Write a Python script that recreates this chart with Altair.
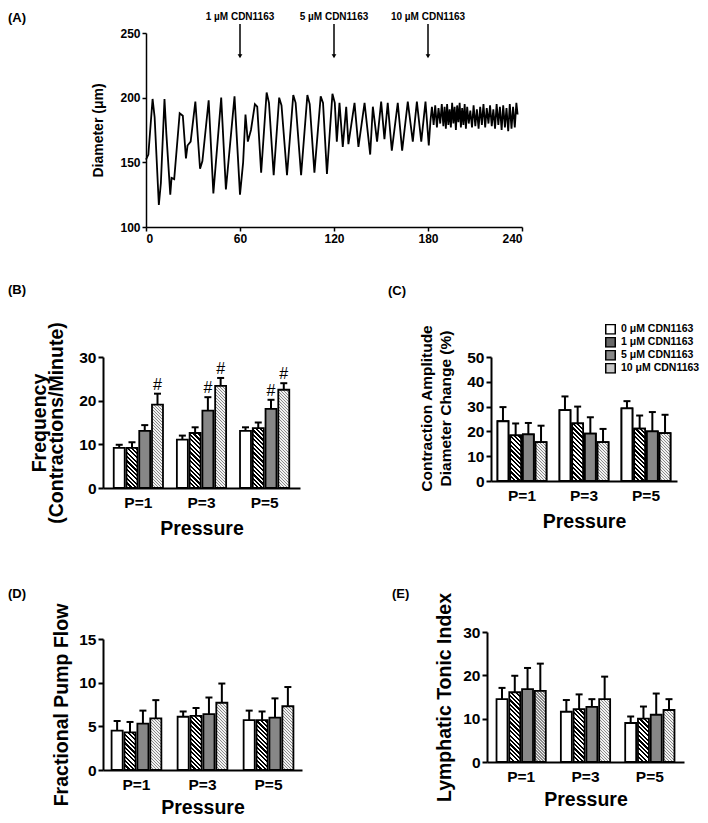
import altair as alt
import pandas as pd

FONT = "Liberation Sans, Arial, sans-serif"
NARROW = "Liberation Sans Narrow, Liberation Sans, Arial, sans-serif"

# ---------------- Panel A data: diameter trace (time s, diameter um) ----------------
trace_control = [(0, 152), (1.5, 156), (4.2, 199), (5.5, 185), (8.2, 117), (9.5, 134), (11.8, 199),
                 (13, 172), (15.5, 125), (16.3, 138), (18, 137), (21.5, 188), (23.5, 186), (25.5, 153),
                 (26.5, 163), (28.5, 166), (31.5, 197), (34.5, 145), (36, 151), (40, 198), (43, 126),
                 (48, 200), (51, 129), (56.5, 201), (60, 125)]
trace_1uM = [(62, 150), (63.5, 187), (65, 166), (67, 175), (69.5, 195), (71, 193), (73.5, 142),
             (77, 204), (78.5, 196), (81.5, 140), (85, 200), (86.5, 194), (90, 140), (94, 202),
             (95.5, 196), (99, 140), (103, 202), (104.5, 195), (107.5, 142), (111.5, 201), (113, 196),
             (115.5, 141), (119, 203), (120.5, 196)]
trace_5uM = [(121.8, 166), (123.5, 196), (125.6, 162), (127.8, 193), (129.2, 164), (133.1, 196),
             (135.6, 162), (139.5, 196), (143.1, 156), (144.8, 193), (147.5, 166), (150.1, 197),
             (152.2, 168), (154.3, 196), (156.9, 159), (160.7, 196), (163.5, 159), (167.1, 197),
             (170.3, 166), (172.9, 197), (175.7, 166), (178.4, 197), (180.5, 163)]
trace_10uM = [(181.5, 181), (182.5, 193), (183.6, 179), (184.6, 194), (185.7, 177), (186.7, 192),
              (187.8, 180), (188.8, 195), (189.8, 178), (190.6, 193), (191.4, 176), (192.2, 195),
              (193.0, 179), (193.8, 191), (194.6, 177), (195.4, 196), (196.2, 180), (197.0, 193),
              (197.8, 175), (198.6, 194), (199.4, 181), (200.2, 196), (201.0, 177), (201.8, 192),
              (202.6, 179), (203.4, 195), (204.2, 176), (205.0, 193), (206.0, 180), (207.0, 190),
              (208.1, 177), (209.1, 194), (210.2, 178), (211.2, 191), (212.3, 176), (213.3, 193),
              (214.4, 179), (215.4, 195), (216.5, 177), (217.5, 192), (218.6, 180), (219.6, 194),
              (220.7, 178), (221.7, 191), (222.8, 176), (223.8, 195), (224.9, 179), (225.9, 193),
              (227.0, 175), (228.0, 194), (229.1, 177), (230.1, 192), (231.2, 174), (232.2, 195),
              (233.3, 176), (234.3, 193), (235.4, 177), (236.4, 196), (237.2, 187)]

arrow_times = [60, 120, 180]
arrow_texts = ["1 µM CDN1163", "5 µM CDN1163", "10 µM CDN1163"]

# ---------------- Bar panels data ----------------
pressures = ["P=1", "P=3", "P=5"]
doses = ["0 μM CDN1163", "1 μM CDN1163", "5 μM CDN1163", "10 μM CDN1163"]
dose_fills = ["#ffffff", "#686868", "#878787", "#c6c6c6"]

freq_mean = [[9.2, 9.2, 13.1, 19.1], [11.1, 12.6, 17.7, 23.4], [13.1, 13.7, 18.1, 22.5]]
freq_sem = [[0.7, 1.3, 1.3, 2.5], [0.9, 1.3, 3.1, 1.8], [0.8, 1.3, 2.1, 1.5]]
freq_sig = [[0, 0, 0, 1], [0, 0, 1, 1], [0, 0, 1, 1]]

amp_mean = [[24.1, 18.4, 18.8, 15.7], [28.6, 23.2, 19.1, 15.7], [29.3, 21.1, 20.0, 19.3]]
amp_sem = [[5.7, 4.8, 4.6, 6.6], [5.5, 6.8, 6.6, 5.3], [2.9, 5.3, 7.8, 7.4]]

fpf_mean = [[4.5, 4.3, 5.3, 5.9], [6.1, 6.2, 6.4, 7.7], [5.7, 5.7, 6.0, 7.3]]
fpf_sem = [[1.1, 1.2, 1.5, 2.1], [0.6, 0.9, 1.9, 2.2], [1.1, 1.0, 2.2, 2.2]]

lti_mean = [[14.5, 16.1, 16.8, 16.4], [11.6, 12.2, 12.7, 14.5], [9.0, 10.0, 10.9, 12.0]]
lti_sem = [[2.6, 3.8, 4.9, 6.3], [2.7, 3.4, 1.8, 5.2], [1.5, 2.8, 4.9, 2.5]]

no_sig = [[0, 0, 0, 0]] * 3

# hatch styles per dose: None = solid fill, else (period px, ink colour, paper colour, ink fraction)
dose_hatch = [None, (4.4, "#000000", "#ffffff", 0.5), None, (3.0, "#8a8a8a", "#f2f2f2", 0.45)]
OFFSET_PAD = 0.14


def stripe_gradient(h_px, w_px, hatch):
    """Diagonal ('\\') stripes as a hard-stop linear gradient in bounding-box units."""
    period, ink, paper, frac = hatch
    h_px = max(h_px, w_px)
    r = h_px / w_px
    denom = w_px * (1 + r * r)
    total = w_px + h_px
    stops = []
    k = 0
    while k * period < total:
        a = min(k * period / denom, 1)
        b = min((k + frac) * period / denom, 1)
        c = min((k + 1) * period / denom, 1)
        stops += [{"offset": round(a, 5), "color": ink}, {"offset": round(b, 5), "color": ink},
                  {"offset": round(b, 5), "color": paper}, {"offset": round(c, 5), "color": paper}]
        k += 1
    return {"gradient": "linear", "x1": 0, "y1": 1, "x2": 1, "y2": round(1 - r, 4), "stops": stops}


def panel_title(text, dx, offset):
    return alt.TitleParams(text, anchor="start", frame="group", dx=dx, offset=offset,
                           baseline="top", fontSize=13, font=FONT, fontWeight="bold", color="black")


# ---------------- Panel A ----------------
trace_df = pd.DataFrame(trace_control + trace_1uM + trace_5uM + trace_10uM, columns=["t", "d"])
arrow_df = pd.DataFrame({"t": arrow_times, "label": arrow_texts,
                         "top": [257] * 3, "tip": [232] * 3, "lab": [262.5] * 3})

scA_x = alt.Scale(domain=[0, 240], range=[43, 419], nice=False)
scA_y = alt.Scale(domain=[100, 250], nice=False, zero=False)
axA_x = alt.Axis(values=[0, 60, 120, 180, 240], title=None, tickSize=4, tickWidth=1.5,
                 domainWidth=1.5, labelFontSize=12, labelPadding=2)
axA_y = alt.Axis(values=[100, 150, 200, 250], title="Diameter (μm)", offset=-43, tickSize=4,
                 tickWidth=1.5, domainWidth=1.5, labelFontSize=12, titleFontSize=14,
                 titlePadding=14, labelPadding=2)

lineA = alt.Chart(trace_df).mark_line(color="black", strokeWidth=1.8).encode(
    x=alt.X("t:Q", scale=scA_x, axis=axA_x), y=alt.Y("d:Q", scale=scA_y, axis=axA_y))
arrA = alt.Chart(arrow_df).mark_rule(color="black", strokeWidth=1.5).encode(
    x=alt.X("t:Q", scale=scA_x, axis=axA_x), y=alt.Y("top:Q", scale=scA_y, axis=axA_y), y2="tip:Q")
headA = alt.Chart(arrow_df).mark_point(shape="triangle-down", filled=True, size=22, color="black",
                                       opacity=1).encode(
    x=alt.X("t:Q", scale=scA_x, axis=axA_x), y=alt.Y("tip:Q", scale=scA_y, axis=axA_y))
textA = alt.Chart(arrow_df).mark_text(font=NARROW, fontSize=10, fontWeight="bold", color="black").encode(
    x=alt.X("t:Q", scale=scA_x, axis=axA_x), y=alt.Y("lab:Q", scale=scA_y, axis=axA_y), text="label:N")

chartA = alt.layer(lineA, arrA, headA, textA).properties(
    width=419, height=194, title=panel_title("(A)", -95, -13))


# ---------------- Bar panel builder ----------------
def bar_panel(means, sems, sig, ytitle, ymax, ystep, width, height, p_in, p_out,
              label, label_dx, label_offset, title_pad, title_size=19.5, title_lh=None,
              title_y=None, yrange=None, legend=None, xtitle_pad=9):
    plot_h = (yrange[0] - yrange[1]) if yrange is not None else height
    step = width / (3 - p_in + 2 * p_out)
    band = step * (1 - p_in)
    bar_w = band / (4 - OFFSET_PAD) * (1 - OFFSET_PAD)
    rows = []
    for i, p in enumerate(pressures):
        for j, d in enumerate(doses):
            m = means[i][j]
            hatch = dose_hatch[j]
            pat = dose_fills[j] if hatch is None else stripe_gradient(m / ymax * plot_h, bar_w, hatch)
            rows.append({"pressure": p, "dose": d, "mean": m,
                         "top": round(m + sems[i][j], 2),
                         "mark": "#" if sig[i][j] else "", "pat": pat})
    data = alt.Data(values=rows)
    xs = alt.Scale(paddingInner=p_in, paddingOuter=p_out)
    xax = alt.Axis(title="Pressure", labelAngle=0, ticks=False, labelPadding=7,
                   titlePadding=xtitle_pad, labelFontSize=15.5, titleFontSize=19.5, domainWidth=2)
    ys_kw = dict(domain=[0, ymax], nice=False)
    if yrange is not None:
        ys_kw["range"] = yrange
    ys = alt.Scale(**ys_kw)
    yax_kw = dict(title=ytitle, values=list(range(0, ymax + 1, ystep)), tickSize=5, tickWidth=2,
                  labelFontSize=15.5, titleFontSize=title_size, titlePadding=title_pad,
                  domainWidth=2, labelPadding=2)
    if title_lh is not None:
        yax_kw["titleLineHeight"] = title_lh
    if title_y is not None:
        yax_kw["titleY"] = title_y
    yax = alt.Axis(**yax_kw)
    X = alt.X("pressure:N", sort=pressures, scale=xs, axis=xax)
    XO = alt.XOffset("dose:N", sort=doses, scale=alt.Scale(paddingInner=OFFSET_PAD, paddingOuter=0))
    base = alt.Chart(data)
    layers = []
    if legend is not None:
        layers.append(base.mark_bar(stroke="black", strokeWidth=1.8).encode(
            x=X, xOffset=XO, y=alt.Y("mean:Q", scale=ys, axis=yax),
            fill=alt.Fill("dose:N", sort=doses, scale=alt.Scale(domain=doses, range=dose_fills),
                          legend=legend)))
    layers.append(base.mark_bar(stroke="black", strokeWidth=1.8).encode(
        x=X, xOffset=XO, y=alt.Y("mean:Q", scale=ys, axis=yax),
        fill=alt.Fill("pat:N", scale=None)))
    layers.append(base.mark_rule(color="black", strokeWidth=2).encode(
        x=X, xOffset=XO, y=alt.Y("mean:Q", scale=ys, axis=yax), y2="top:Q"))
    layers.append(base.mark_tick(color="black", thickness=2, size=7, opacity=1).encode(
        x=X, xOffset=XO, y=alt.Y("top:Q", scale=ys, axis=yax)))
    if any(any(r) for r in sig):
        layers.append(base.mark_text(baseline="bottom", dy=-1, fontSize=16, font=FONT,
                                     color="black").encode(
            x=X, xOffset=XO, y=alt.Y("top:Q", scale=ys, axis=yax), text="mark:N"))
    return alt.layer(*layers).properties(
        width=width, height=height, title=panel_title(label, label_dx, label_offset))


legendC = alt.Legend(orient="none", legendX=114, legendY=-33, title=None, symbolType="square",
                     symbolSize=90, symbolStrokeColor="black", symbolStrokeWidth=1.5,
                     labelFont=NARROW, labelFontSize=10.5, labelFontWeight="bold",
                     labelColor="black", clipHeight=10.3, labelOffset=5, padding=0)

chartB = bar_panel(freq_mean, freq_sem, freq_sig, ["Frequency", "(Contractions/Minute)"], 30, 10,
                   197, 131, 0.22, 0.17, "(B)", -95, 24.5, 12.5, title_lh=17)
chartC = bar_panel(amp_mean, amp_sem, no_sig, ["Contraction Amplitude", "Diameter Change (%)"], 50, 10,
                   186, 124, 0.21, 0.105, "(C)", -103, 26, 13, title_size=15.5, title_lh=19,
                   title_y=51, legend=legendC)
chartD = bar_panel(fpf_mean, fpf_sem, no_sig, "Fractional Pump Flow", 15, 5,
                   199, 138, 0.246, 0.13, "(D)", -95, 2.5, 7, yrange=[138, 7], xtitle_pad=6)
chartE = bar_panel(lti_mean, lti_sem, no_sig, "Lymphatic Tonic Index", 30, 10,
                   197, 130, 0.234, 0.148, "(E)", -95, -9, 8, xtitle_pad=6)


def indep(c):
    return c.resolve_scale(x="independent", y="independent", fill="independent",
                           xOffset="independent").resolve_legend(fill="independent")


row2 = indep(alt.hconcat(chartB, chartC, spacing=88))
row3 = indep(alt.hconcat(chartD, chartE, spacing=90))
lower = indep(alt.vconcat(row2, row3, spacing=49))
chart = indep(alt.vconcat(chartA, lower, spacing=40))

chart = chart.properties(padding={"left": 0, "top": 3, "right": 0, "bottom": 0}).configure_view(
    stroke=None).configure_axis(
    grid=False, domainColor="black", tickColor="black", labelColor="black", titleColor="black",
    labelFont=FONT, titleFont=FONT, labelFontWeight="bold", titleFontWeight="bold")

chart.save("out.html", embed_options={"renderer": "svg", "actions": False})
